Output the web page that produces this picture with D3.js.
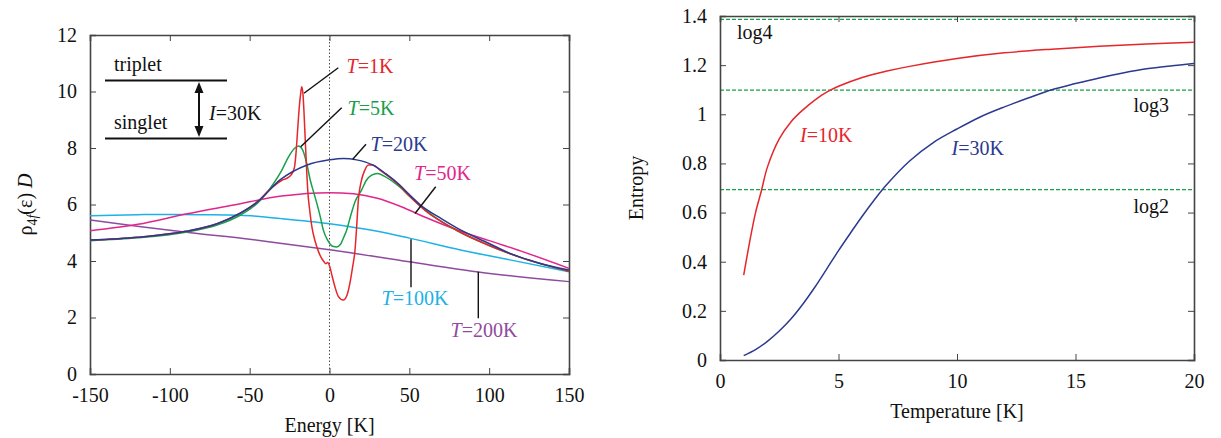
<!DOCTYPE html>
<html><head><meta charset="utf-8">
<script src="https://cdn.jsdelivr.net/npm/d3@7"></script>
<style>
body{margin:0;background:#fff;}
svg, svg text{font-family:"Liberation Serif","Times New Roman","DejaVu Serif",serif;}
</style></head>
<body><svg id="c" width="1221" height="438"></svg>
<script>
// ---------- Left panel data ----------
const energyTicks = [-150,-100,-50,0,50,100,150];
const rhoTicks = [0,2,4,6,8,10,12];

const eT1   = [-150,-120,-90,-70,-55,-45,-38,-30,-26,-24,-22,-21,-20,-19,-18,-17.4,-16.6,-16,-15.2,-14.3,-13.5,-12.5,-11,-9,-7,-5,-3.5,-2.3,-1.2,0.2,1.5,3.4,5.5,8.6,11,12.8,14.5,16,17,18,20,22,24.3,27,31.6,38,44,50,60,80,100,120,150];
const rhoT1 = [4.74,4.84,5.05,5.33,5.72,6.1,6.5,6.85,6.95,7.05,7.3,7.8,8.6,9.4,9.95,10.17,9.9,9.3,8.3,7.2,6.4,5.85,5.2,4.7,4.35,4.1,3.98,3.9,3.95,3.8,3.5,3.09,2.75,2.62,2.8,3.22,3.8,4.4,5.2,6.1,6.85,7.2,7.4,7.4,7.22,6.95,6.66,6.3,5.78,5.08,4.55,4.12,3.64];

const eT5   = [-150,-120,-90,-70,-56,-45,-35,-30,-26,-22,-19.5,-17,-14.3,-12,-10,-7.5,-5.5,-3.9,-1,2,4.5,7,9,10.8,13,16,20,23,26.4,30,35,44,50,60,80,100,120,150];
const rhoT5 = [4.72,4.82,5.02,5.28,5.62,6.05,6.75,7.2,7.65,7.98,8.07,7.95,7.46,6.85,6.45,5.95,5.5,5.1,4.72,4.52,4.5,4.6,4.85,5.1,5.55,6.1,6.5,6.85,7.04,7.1,6.98,6.62,6.3,5.8,5.07,4.55,4.12,3.63];

const eT20   = [-150,-120,-90,-70,-56,-45,-31,-14,0,8.6,17,27,35,44,50,57,70,82,100,113,130,150];
const rhoT20 = [4.74,4.84,5.05,5.33,5.69,6.1,6.87,7.4,7.58,7.63,7.58,7.4,7.1,6.69,6.35,5.98,5.5,5.1,4.62,4.27,3.95,3.68];

const eT50   = [-150,-120,-90,-60,-30,0,15,30,45,60,80,100,120,150];
const rhoT50 = [5.07,5.3,5.66,5.98,6.3,6.42,6.38,6.22,5.92,5.55,5.1,4.72,4.35,3.74];

const eT100   = [-150,-120,-100,-80,-56,-30,0,30,50,82,113,150];
const rhoT100 = [5.6,5.64,5.65,5.64,5.62,5.5,5.32,5.05,4.81,4.39,4.04,3.62];

const eT200   = [-150,-118,-87,-50,-31,0,50,92,150];
const rhoT200 = [5.45,5.21,5.0,4.77,4.63,4.4,3.97,3.62,3.27];

const seriesNames  = ["T=1K","T=5K","T=20K","T=50K","T=100K","T=200K"];
const seriesColors = ["#e5262b","#17a04b","#2b3a8f","#e0268c","#1cb2e6","#904b9e"];

// ---------- Right panel data ----------
const tempTicks = [0,5,10,15,20];
const entropyTicks = [0,0.2,0.4,0.6,0.8,1,1.2,1.4];
const tI10 = [1,1.25,1.5,1.75,2,2.5,3,3.5,4,4.5,5,6,7,8,10,12,14,16,18,20];
const sI10 = [0.345,0.48,0.6,0.69,0.785,0.9,0.97,1.018,1.058,1.09,1.114,1.15,1.175,1.195,1.227,1.25,1.265,1.277,1.286,1.293];
const tI30 = [1,1.5,2,2.5,3,3.5,4,4.5,5,5.5,6,6.5,7,8,9,10,11,12,13,14,15,16,17,18,19,20];
const sI30 = [0.018,0.042,0.076,0.118,0.168,0.228,0.296,0.37,0.445,0.516,0.585,0.65,0.71,0.81,0.885,0.94,0.99,1.03,1.066,1.1,1.125,1.148,1.168,1.185,1.197,1.207];
const refLevels = [Math.log(2), Math.log(3), Math.log(4)];
const refLabels = ["log2","log3","log4"];

const FONT = "Liberation Serif, Times New Roman, DejaVu Serif, serif";
const svg = d3.select("#c");
const AX = "#444";
const FS = 20;

function txt(g){ return g.append("text").attr("font-family",FONT).attr("font-size",FS); }
function italicLabel(sel, first, rest){
  sel.append("tspan").attr("font-style","italic").text(first);
  sel.append("tspan").text(rest);
}
function styleAxis(g){
  g.attr("font-family",FONT);
  g.select(".domain").attr("stroke",AX).attr("stroke-width",1.6);
  g.selectAll(".tick line").attr("stroke",AX).attr("stroke-width",1);
  g.selectAll("text").attr("font-size",FS).attr("fill","#111").attr("font-family",FONT);
}
const fmtInt = d => String(d);

// ================= LEFT PANEL =================
const L = {x0:90, x1:569, y0:35, y1:374};
const xL = d3.scaleLinear().domain([-150,150]).range([L.x0,L.x1]);
const yL = d3.scaleLinear().domain([0,12]).range([L.y1,L.y0]);
const gL = svg.append("g");

gL.append("line").attr("x1",xL(0)).attr("x2",xL(0)).attr("y1",L.y0).attr("y2",L.y1)
  .attr("stroke","#222").attr("stroke-width",0.8).attr("stroke-dasharray","1.5,2");

gL.append("g").attr("transform",`translate(0,${L.y1})`).call(d3.axisBottom(xL).tickValues(energyTicks).tickSize(-6).tickPadding(14).tickFormat(fmtInt)).call(styleAxis);
gL.append("g").attr("transform",`translate(0,${L.y0})`).call(d3.axisTop(xL).tickValues(energyTicks).tickSize(-6).tickFormat("")).call(styleAxis);
gL.append("g").attr("transform",`translate(${L.x0},0)`).call(d3.axisLeft(yL).tickValues(rhoTicks).tickSize(-6).tickPadding(13).tickFormat(fmtInt)).call(styleAxis);
gL.append("g").attr("transform",`translate(${L.x1},0)`).call(d3.axisRight(yL).tickValues(rhoTicks).tickSize(-6).tickFormat("")).call(styleAxis);

const lineL = d3.line().x(d=>xL(d[0])).y(d=>yL(d[1])).curve(d3.curveMonotoneX);
const leftSeries = [[eT200,rhoT200],[eT100,rhoT100],[eT50,rhoT50],[eT5,rhoT5],[eT1,rhoT1],[eT20,rhoT20]];
const leftColorIdx = [5,4,3,1,0,2];
leftSeries.forEach((s,i)=>{
  const pts = s[0].map((e,k)=>[e,s[1][k]]);
  gL.append("path").datum(pts).attr("d",lineL).attr("fill","none")
    .attr("stroke",seriesColors[leftColorIdx[i]]).attr("stroke-width",1.5);
});

// level diagram
const lev = gL.append("g");
lev.append("line").attr("x1",105).attr("x2",227).attr("y1",80.5).attr("y2",80.5).attr("stroke","#111").attr("stroke-width",2);
lev.append("line").attr("x1",105).attr("x2",227).attr("y1",138.5).attr("y2",138.5).attr("stroke","#111").attr("stroke-width",2);
txt(lev).attr("x",114).attr("y",71).attr("fill","#111").text("triplet");
txt(lev).attr("x",114).attr("y",129).attr("fill","#111").text("singlet");
lev.append("line").attr("x1",199).attr("x2",199).attr("y1",90).attr("y2",129).attr("stroke","#111").attr("stroke-width",2);
lev.append("path").attr("d","M199,82 L194.5,93 L203.5,93 Z").attr("fill","#111");
lev.append("path").attr("d","M199,137 L194.5,126 L203.5,126 Z").attr("fill","#111");
italicLabel(txt(lev).attr("x",209).attr("y",119.5).attr("fill","#111"),"I","=30K");

const ann = [
  {i:0, tx:346.5, ty:72.5, l:[338.3,67.7,304,93.3]},
  {i:1, tx:347.5, ty:114.5, l:[341.7,107.7,300.7,146.7]},
  {i:2, tx:370.5, ty:151, l:[366,144.3,352.7,159.3]},
  {i:3, tx:414, ty:180, l:[435.7,186.7,415,213.5]},
  {i:4, tx:381.5, ty:305, l:[411,239.3,411,287.3]},
  {i:5, tx:450.5, ty:336.5, l:[478.3,271.7,478.3,318.3]}
];
ann.forEach(a=>{
  gL.append("line").attr("x1",a.l[0]).attr("y1",a.l[1]).attr("x2",a.l[2]).attr("y2",a.l[3])
    .attr("stroke","#111").attr("stroke-width",1.4);
  const name = seriesNames[a.i];
  italicLabel(txt(gL).attr("x",a.tx).attr("y",a.ty).attr("fill",seriesColors[a.i]), name.slice(0,1), name.slice(1));
});

txt(gL).attr("x",(L.x0+L.x1)/2).attr("y",431.5).attr("text-anchor","middle").attr("fill","#111").text("Energy [K]");
const yt = txt(gL).attr("transform",`translate(32,${(L.y0+L.y1)/2}) rotate(-90)`).attr("text-anchor","middle").attr("fill","#111");
yt.append("tspan").text("ρ");
yt.append("tspan").attr("font-size",14).attr("dy",5).text("4");
yt.append("tspan").attr("font-size",14).attr("font-style","italic").text("f");
yt.append("tspan").attr("dy",-5).text("(ε) ");
yt.append("tspan").attr("font-style","italic").text("D");

// ================= RIGHT PANEL =================
const R = {x0:720, x1:1194, y0:16, y1:360};
const xR = d3.scaleLinear().domain([0,20]).range([R.x0,R.x1]);
const yR = d3.scaleLinear().domain([0,1.4]).range([R.y1,R.y0]);
const gR = svg.append("g");

refLevels.forEach(v=>{
  gR.append("line").attr("x1",R.x0).attr("x2",R.x1).attr("y1",yR(v)).attr("y2",yR(v))
    .attr("stroke","#17a04b").attr("stroke-width",1.2).attr("stroke-dasharray","4,2");
});

const fmtR = d=> d===0?"0":(d===1?"1":d3.format(".1f")(d));
gR.append("g").attr("transform",`translate(0,${R.y1})`).call(d3.axisBottom(xR).tickValues(tempTicks).tickSize(-6).tickPadding(14).tickFormat(fmtInt)).call(styleAxis);
gR.append("g").attr("transform",`translate(0,${R.y0})`).call(d3.axisTop(xR).tickValues(tempTicks).tickSize(-6).tickFormat("")).call(styleAxis);
gR.append("g").attr("transform",`translate(${R.x0},0)`).call(d3.axisLeft(yR).tickValues(entropyTicks).tickSize(-6).tickPadding(13).tickFormat(fmtR)).call(styleAxis);
gR.append("g").attr("transform",`translate(${R.x1},0)`).call(d3.axisRight(yR).tickValues(entropyTicks).tickSize(-6).tickFormat("")).call(styleAxis);

const lineR = d3.line().x(d=>xR(d[0])).y(d=>yR(d[1])).curve(d3.curveCatmullRom.alpha(0.5));
gR.append("path").datum(tI10.map((t,k)=>[t,sI10[k]])).attr("d",lineR).attr("fill","none").attr("stroke","#e5262b").attr("stroke-width",1.5);
gR.append("path").datum(tI30.map((t,k)=>[t,sI30[k]])).attr("d",lineR).attr("fill","none").attr("stroke","#2b3a8f").attr("stroke-width",1.5);

italicLabel(txt(gR).attr("x",800).attr("y",141.5).attr("fill","#e5262b"),"I","=10K");
italicLabel(txt(gR).attr("x",951.5).attr("y",155).attr("fill","#2b3a8f"),"I","=30K");

txt(gR).attr("x",737).attr("y",38.5).attr("fill","#111").text(refLabels[2]);
txt(gR).attr("x",1169).attr("y",111.5).attr("text-anchor","end").attr("fill","#111").text(refLabels[1]);
txt(gR).attr("x",1169).attr("y",213).attr("text-anchor","end").attr("fill","#111").text(refLabels[0]);

txt(gR).attr("x",(R.x0+R.x1)/2).attr("y",418).attr("text-anchor","middle").attr("fill","#111").text("Temperature [K]");
txt(gR).attr("transform",`translate(643,${(R.y0+R.y1)/2}) rotate(-90)`).attr("text-anchor","middle").attr("fill","#111").text("Entropy");
</script></body></html>
